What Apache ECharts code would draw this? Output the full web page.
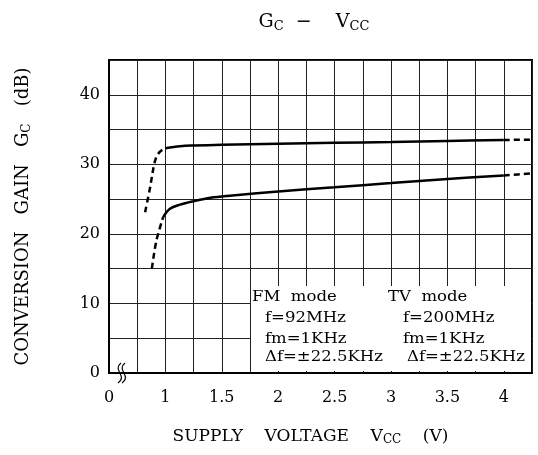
<!DOCTYPE html>
<html>
<head>
<meta charset="utf-8">
<script src="https://cdn.jsdelivr.net/npm/echarts@6/dist/echarts.min.js"></script>
<style>
html,body{margin:0;padding:0;background:#fff;}
#chart{width:538px;height:455px;}
</style>
</head>
<body>
<div id="chart"></div>
<script>
// ---- Data (supply voltage V, conversion gain dB) ----
// Upper curve
const upperDashStartV = [0.82, 0.86, 0.91, 0.95, 1.0];
const upperDashStartG = [23.1, 26.3, 30.6, 31.8, 32.3];
const upperSolidV = [1.0, 1.13, 1.25, 1.5, 2.0, 2.5, 3.0, 3.5, 4.0];
const upperSolidG = [32.3, 32.6, 32.7, 32.8, 32.95, 33.1, 33.2, 33.35, 33.5];
const upperDashEndV = [4.0, 4.25];
const upperDashEndG = [33.5, 33.55];
// Lower curve
const lowerDashStartV = [0.88, 0.92, 0.98];
const lowerDashStartG = [15.0, 19.0, 22.4];
const lowerSolidV = [0.98, 1.04, 1.13, 1.25, 1.4, 1.57, 2.0, 2.5, 3.0, 3.5, 4.0];
const lowerSolidG = [22.4, 23.6, 24.2, 24.7, 25.2, 25.5, 26.1, 26.7, 27.3, 27.9, 28.4];
const lowerDashEndV = [4.0, 4.25];
const lowerDashEndG = [28.4, 28.7];

// Tick labels (broken axis: first position is labelled 0)
const xTickValues = [0.5, 1, 1.5, 2, 2.5, 3, 3.5, 4];
const xTickLabels = ['0', '1', '1.5', '2', '2.5', '3', '3.5', '4'];
const yTickValues = [0, 10, 20, 30, 40];
const yTickLabels = ['0', '10', '20', '30', '40'];

const legendFM = ['FM  mode', 'f=92MHz', 'fm=1KHz', '\u0394f=\u00b122.5KHz'];
const legendTV = ['TV  mode', 'f=200MHz', 'fm=1KHz', '\u0394f=\u00b122.5KHz'];

const FONT = 'DejaVu Serif';
const zip = (a, b) => a.map((v, i) => [v, b[i]]);

function lineSeries(xs, ys, dashed) {
  return {
    type: 'line',
    data: zip(xs, ys),
    smooth: 0.35,
    symbol: 'none',
    silent: true,
    lineStyle: { color: '#000', width: 2.5, type: dashed ? [6, 4] : 'solid' },
    z: 5
  };
}

const chart = echarts.init(document.getElementById('chart'), null, { renderer: 'canvas' });

const rowsTop = [290, 311, 332, 350];
const legendTexts = [];
legendFM.forEach((t, i) => legendTexts.push({
  type: 'text', x: i === 0 ? 252 : 265, y: rowsTop[i], scaleX: 1.1,
  style: { text: t, font: '15px "' + FONT + '"', fill: '#000' }, z: 101
}));
legendTV.forEach((t, i) => legendTexts.push({
  type: 'text', x: i === 0 ? 388 : (i === 3 ? 407 : 403), y: rowsTop[i], scaleX: 1.1,
  style: { text: t, font: '15px "' + FONT + '"', fill: '#000' }, z: 101
}));

function squiggle(dx) {
  return {
    type: 'bezierCurve', z: 102,
    shape: { x1: 121 + dx, y1: 363, cpx1: 112 + dx, cpy1: 370, cpx2: 128 + dx, cpy2: 376, x2: 118 + dx, y2: 383 },
    style: { fill: 'none', stroke: '#000', lineWidth: 1.2 }
  };
}

chart.setOption({
  animation: false,
  backgroundColor: '#fff',
  title: {
    text: '{n|G}{s|C}{n|  \u2212    V}{s|CC}',
    left: 309, top: 7, textAlign: 'center',
    textStyle: {
      fontWeight: 'normal',
      rich: {
        n: { fontFamily: FONT, fontSize: 19, fontWeight: 'normal', color: '#000' },
        s: { fontFamily: FONT, fontSize: 13, fontWeight: 'normal', color: '#000', padding: [8, 0, 0, 0] }
      }
    }
  },
  grid: {
    left: 109, top: 60, right: 6, bottom: 82,
    show: true, borderColor: '#000', borderWidth: 2, backgroundColor: 'transparent'
  },
  xAxis: {
    type: 'value', min: 0.5, max: 4.25, interval: 0.25,
    name: '{n|SUPPLY    VOLTAGE    V}{s|CC}{n|    (V)}',
    nameLocation: 'middle', nameGap: 54,
    nameTextStyle: {
      padding: [0, 20, 0, 0],
      rich: {
        n: { fontFamily: FONT, fontSize: 17, color: '#000' },
        s: { fontFamily: FONT, fontSize: 12, color: '#000', padding: [7, 0, 0, 0] }
      }
    },
    axisLine: { show: true, lineStyle: { color: '#000', width: 2 } },
    axisTick: { show: false },
    splitLine: { show: true, lineStyle: { color: '#222', width: 1 } },
    axisLabel: {
      margin: 17, fontFamily: FONT, fontSize: 16, color: '#000', showMaxLabel: true,
      formatter: v => {
        const i = xTickValues.findIndex(t => Math.abs(t - v) < 1e-6);
        return i >= 0 ? xTickLabels[i] : '';
      }
    }
  },
  yAxis: {
    type: 'value', min: 0, max: 45, interval: 5,
    name: '{n|CONVERSION   GAIN   G}{s|C}{n|   (dB)}',
    nameLocation: 'middle', nameRotate: 90, nameGap: 76,
    nameTextStyle: {
      rich: {
        n: { fontFamily: FONT, fontSize: 18, color: '#000' },
        s: { fontFamily: FONT, fontSize: 12, color: '#000', padding: [7, 0, 0, 0] }
      }
    },
    axisLine: { show: true, lineStyle: { color: '#000', width: 2 } },
    axisTick: { show: false },
    splitLine: { show: true, lineStyle: { color: '#222', width: 1 } },
    axisLabel: {
      margin: 9, fontFamily: FONT, fontSize: 16, color: '#000',
      formatter: v => {
        const i = yTickValues.indexOf(v);
        return i >= 0 ? yTickLabels[i] : '';
      }
    }
  },
  series: [
    lineSeries(upperDashStartV, upperDashStartG, true),
    lineSeries(upperSolidV, upperSolidG, false),
    lineSeries(upperDashEndV, upperDashEndG, true),
    lineSeries(lowerDashStartV, lowerDashStartG, true),
    lineSeries(lowerSolidV, lowerSolidG, false),
    lineSeries(lowerDashEndV, lowerDashEndG, true)
  ],
  graphic: [
    { type: 'rect', shape: { x: 251, y: 286, width: 280, height: 85 }, style: { fill: '#fff' }, z: 100 },
    ...legendTexts,
    squiggle(0),
    squiggle(4)
  ]
});
</script>
</body>
</html>
